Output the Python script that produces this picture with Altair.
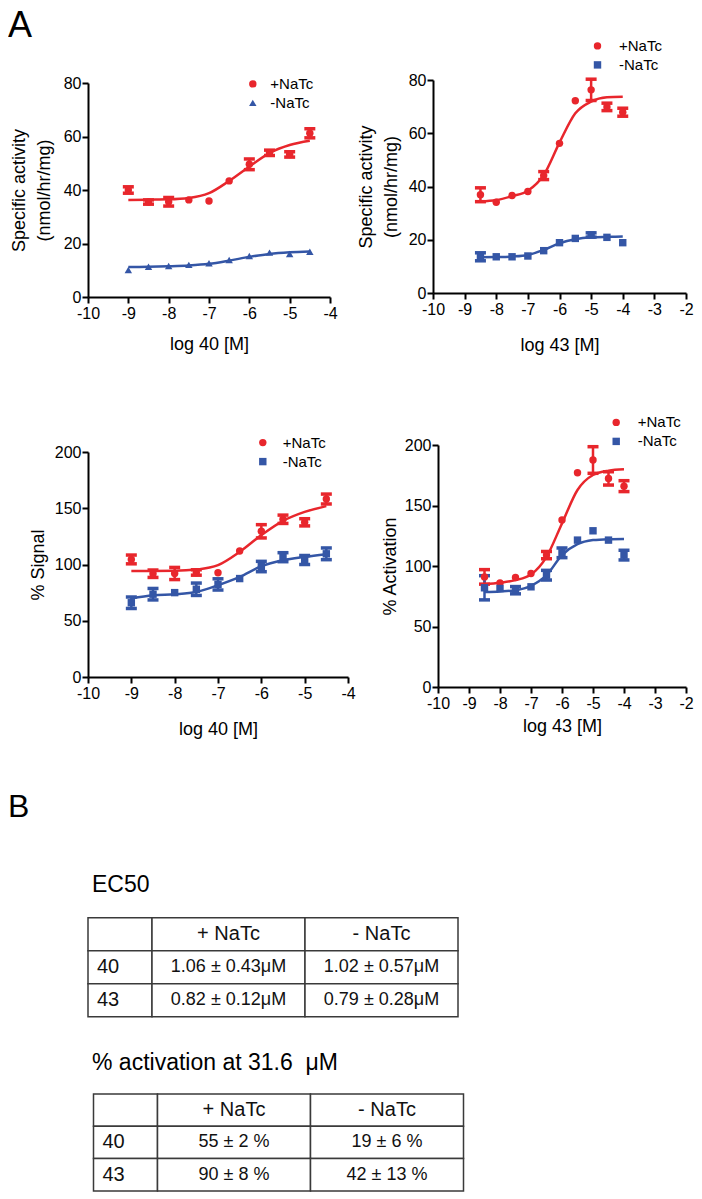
import altair as alt
import pandas as pd

# ------------------------------------------------------------------ data
PLUS, MINUS = "+NaTc", "-NaTc"

log40 = [-9, -8.5, -8, -7.5, -7, -6.5, -6, -5.5, -5, -4.5]
log43 = [-8.5, -8, -7.5, -7, -6.5, -6, -5.5, -5, -4.5, -4]

# Panel 1: specific activity vs log 40
sa40_plus = [40.0, 35.5, 35.6, 36.3, 35.9, 43.4, 49.6, 53.9, 53.3, 61.2]
sa40_plus_err = [1.2, 0.8, 1.6, 0, 0, 0, 2.0, 1.0, 1.0, 1.7]
sa40_minus = [10.1, 11.3, 11.6, 12.0, 12.6, 13.8, 15.3, 16.6, 16.1, 16.9]
sa40_minus_err = [0, 0, 0, 0, 0, 0, 0, 0, 0, 0]
sa40_plus_fit = [36.3, 36.4, 36.5, 37.0, 38.8, 43.4, 48.8, 53.8, 56.8, 58.4]
sa40_minus_fit = [11.2, 11.3, 11.5, 11.8, 12.4, 13.6, 15.0, 16.1, 16.7, 17.0]

# Panel 2: specific activity vs log 43
sa43_plus = [36.9, 34.1, 36.6, 38.1, 44.1, 56.2, 72.2, 76.3, 69.9, 67.9]
sa43_plus_err = [2.6, 0, 0, 0, 1.5, 0, 0, 4.0, 1.4, 1.5]
sa43_minus = [13.6, 13.6, 13.6, 13.9, 15.9, 18.9, 20.5, 21.8, 20.9, 18.9]
sa43_minus_err = [1.5, 0, 0, 0, 0, 0, 0, 0.8, 0, 0]
sa43_plus_fit = [34.3, 34.9, 36.4, 38.4, 44.3, 56.5, 67.5, 71.9, 73.5, 73.7]
sa43_minus_fit = [13.4, 13.5, 13.7, 14.3, 16.2, 18.7, 20.2, 20.9, 21.1, 21.2]

# Panel 3: % signal vs log 40
sig40_plus = [104.5, 91.8, 92.0, 92.9, 92.7, 112.0, 129.5, 140.2, 137.5, 158.2]
sig40_plus_err = [3.9, 3.3, 5.4, 2.4, 0, 0, 5.9, 3.7, 3.2, 4.4]
sig40_minus = [66.0, 73.6, 75.0, 78.0, 82.3, 87.5, 98.2, 106.5, 104.0, 109.5]
sig40_minus_err = [5.1, 5.1, 0, 5.5, 5.0, 0, 4.6, 4.0, 4.0, 5.2]
sig40_plus_fit = [94.3, 94.3, 94.4, 95.5, 99.4, 111.2, 126.1, 138.8, 146.8, 151.9]
sig40_minus_fit = [69.8, 72.7, 73.6, 75.6, 81.6, 89.0, 98.5, 103.8, 106.8, 109.2]

# Panel 4: % activation vs log 43
act43_plus = [91.0, 86.0, 90.5, 93.8, 109.0, 138.0, 177.0, 187.6, 172.4, 166.0]
act43_plus_err = [6.0, 0, 0, 0, 3.0, 0, 0, 11.0, 5.5, 4.5]
act43_minus = [82.0, 81.4, 80.0, 82.8, 92.4, 110.9, 121.4, 129.1, 121.4, 109.0]
act43_minus_err = [10.0, 0, 3.0, 0, 4.0, 4.0, 0, 0, 0, 4.0]
act43_plus_fit = [85.0, 86.2, 88.3, 93.0, 107.6, 135.2, 162.8, 175.2, 178.8, 179.9]
act43_minus_fit = [78.6, 79.0, 80.0, 83.6, 92.4, 109.0, 118.0, 121.4, 122.2, 122.4]

# Tables (panel B)
table_header = ["", "+ NaTc", "- NaTc"]
table_compounds = ["40", "43"]
ec50_plus = ["1.06 ± 0.43μM", "0.82 ± 0.12μM"]
ec50_minus = ["1.02 ± 0.57μM", "0.79 ± 0.28μM"]
act_plus = ["55 ± 2 %", "90 ± 8 %"]
act_minus = ["19 ± 6 %", "42 ± 13 %"]
ec50_title = "EC50"
act_title = "% activation at 31.6\u00a0\u00a0μM"
panel_a_label = "A"
panel_b_label = "B"

# ------------------------------------------------------------------ style
FONT = "Liberation Sans"
RED = "#E8262C"
BLUE = "#3456A6"
SERIES_COLORS = {PLUS: RED, MINUS: BLUE}
TEXT = "#111111"


def make_panel(xs, yp, ep, ym, em, fp, fm, minus_shape, cfg, label=None):
    n = len(xs)
    conds = [PLUS] * n + [MINUS] * n
    pts = pd.DataFrame({"x": list(xs) * 2, "y": list(yp) + list(ym),
                        "err": list(ep) + list(em), "cond": conds})
    pts["col"] = pts["cond"].map(SERIES_COLORS)
    pts["lo"] = pts["y"] - pts["err"]
    pts["hi"] = pts["y"] + pts["err"]
    bars = pts[pts["err"] > 0]
    fit = pd.DataFrame({"x": list(xs) * 2, "y": list(fp) + list(fm), "cond": conds})
    fit["col"] = fit["cond"].map(SERIES_COLORS)

    xscale = alt.Scale(domain=cfg["xdom"], range=cfg["xrange"], nice=False, zero=False)
    yscale = alt.Scale(domain=cfg["ydom"], range=cfg["yrange"], nice=False, zero=False)
    xaxis = alt.Axis(values=cfg["xticks"], title=cfg["xtitle"], titlePadding=cfg["xtp"],
                     labelExpr="datum.value + ''")
    yaxis = alt.Axis(values=cfg["yticks"], title=cfg["ytitle"], titlePadding=cfg["ytp"],
                     labelExpr="datum.value + ''", offset=cfg["yoff"])
    cscale = alt.Scale(domain=[PLUS, MINUS], range=[RED, BLUE])
    sscale = alt.Scale(domain=[PLUS, MINUS], range=["circle", minus_shape])
    lx, ly, loff = cfg["legend"]
    leg = alt.Legend(orient="none", legendX=lx, legendY=ly, title=None,
                     direction="vertical", labelOffset=loff)

    def X(f):
        return alt.X(f"{f}:Q", scale=xscale, axis=xaxis)

    def Y(f):
        return alt.Y(f"{f}:Q", scale=yscale, axis=yaxis)

    C0 = alt.Color("col:N", scale=None)

    rules = alt.Chart(bars).mark_rule(strokeWidth=2.5).encode(
        x=X("x"), y=Y("lo"), y2="hi:Q", color=C0)
    cap_lo = alt.Chart(bars).mark_tick(orient="horizontal", size=11, thickness=3.5,
                                       opacity=1).encode(x=X("x"), y=Y("lo"), color=C0)
    cap_hi = alt.Chart(bars).mark_tick(orient="horizontal", size=11, thickness=3.5,
                                       opacity=1).encode(x=X("x"), y=Y("hi"), color=C0)
    line = alt.Chart(fit).mark_line(interpolate="monotone", strokeWidth=2.5).encode(
        x=X("x"), y=Y("y"), color=C0, detail="cond:N")
    points = alt.Chart(pts).mark_point(filled=True, size=55, opacity=1, strokeWidth=0).encode(
        x=X("x"), y=Y("y"),
        color=alt.Color("cond:N", scale=cscale, legend=leg),
        shape=alt.Shape("cond:N", scale=sscale, legend=leg))
    layers = [rules, cap_lo, cap_hi, line, points]
    if label is not None:
        lbl = alt.Chart(pd.DataFrame({"t": [label]})).mark_text(
            align="left", baseline="alphabetic", font=FONT, fontSize=36, color="black"
        ).encode(x=alt.value(-80), y=alt.value(-43), text="t:N")
        layers.append(lbl)
    return alt.layer(*layers).properties(width=cfg["w"], height=cfg["h"])


cfg1 = dict(w=242, h=217, xdom=[-10, -4], xrange=[0, 242], ydom=[0, 80], yrange=[217, 3],
            xticks=[-10, -9, -8, -7, -6, -5, -4], yticks=[0, 20, 40, 60, 80],
            xtitle="log 40 [M]", ytitle=["Specific activity", "(nmol/hr/mg)"],
            xtp=14.5, ytp=10, yoff=0, legend=(157.3, -3.6, 10))
cfg2 = dict(w=253, h=213, xdom=[-10, -2], xrange=[0, 253], ydom=[0, 80], yrange=[213, 0],
            xticks=[-10, -9, -8, -7, -6, -5, -4, -3, -2], yticks=[0, 20, 40, 60, 80],
            xtitle="log 43 [M]", ytitle=["Specific activity", "(nmol/hr/mg)"],
            xtp=19, ytp=8, yoff=0, legend=(157, -41.6, 14))
cfg3 = dict(w=247, h=232, xdom=[-10, -4], xrange=[0, 260], ydom=[0, 200], yrange=[232, 7],
            xticks=[-10, -9, -8, -7, -6, -5, -4], yticks=[0, 50, 100, 150, 200],
            xtitle="log 40 [M]", ytitle="% Signal",
            xtp=19, ytp=7, yoff=0, legend=(167.3, -9.9, 12.4))
cfg4 = dict(w=253, h=242, xdom=[-10, -2], xrange=[5, 253], ydom=[0, 200], yrange=[242, 0],
            xticks=[-10, -9, -8, -7, -6, -5, -4, -3, -2], yticks=[0, 50, 100, 150, 200],
            xtitle="log 43 [M]", ytitle="% Activation",
            xtp=6, ytp=5, yoff=-5, legend=(175.7, -30.1, 14))

p1 = make_panel(log40, sa40_plus, sa40_plus_err, sa40_minus, sa40_minus_err,
                sa40_plus_fit, sa40_minus_fit, "triangle-up", cfg1, label=panel_a_label)
p2 = make_panel(log43, sa43_plus, sa43_plus_err, sa43_minus, sa43_minus_err,
                sa43_plus_fit, sa43_minus_fit, "square", cfg2)
p3 = make_panel(log40, sig40_plus, sig40_plus_err, sig40_minus, sig40_minus_err,
                sig40_plus_fit, sig40_minus_fit, "square", cfg3)
p4 = make_panel(log43, act43_plus, act43_plus_err, act43_minus, act43_minus_err,
                act43_plus_fit, act43_minus_fit, "square", cfg4)

# ------------------------------------------------------------------ tables (layout in pixels)
TBL_W, TBL_H = 380, 356
COL_W = [64, 153, 153]
T1_POS = (0, 82.7, 33.0)      # left, top, row height
T2_POS = (5.5, 259, 32.3)
LABEL_PAD = 9


def table_cells(pos, rows):
    left, top, rh = pos
    edges = [left]
    for w in COL_W:
        edges.append(edges[-1] + w)
    recs = []
    for r, row in enumerate(rows):
        for c, txt in enumerate(row):
            kind = "header" if r == 0 else ("label" if c == 0 else "value")
            recs.append(dict(x0=edges[c], x1=edges[c + 1], y0=top + r * rh,
                             y1=top + (r + 1) * rh, xc=(edges[c] + edges[c + 1]) / 2,
                             xl=edges[c] + LABEL_PAD, yc=top + (r + 0.5) * rh,
                             text=txt, kind=kind))
    return recs


rows1 = [table_header] + [[table_compounds[i], ec50_plus[i], ec50_minus[i]] for i in range(2)]
rows2 = [table_header] + [[table_compounds[i], act_plus[i], act_minus[i]] for i in range(2)]
cells = pd.DataFrame(table_cells(T1_POS, rows1) + table_cells(T2_POS, rows2))

headings = pd.DataFrame({
    "text": [panel_b_label, ec50_title, act_title],
    "x": [-80, 4, 4],
    "y": [-18, 56.7, 235],
    "fs": [32, 23, 23],
})

tx = alt.Scale(domain=[0, TBL_W], range=[0, TBL_W], nice=False, zero=False)
ty = alt.Scale(domain=[0, TBL_H], range=[0, TBL_H], nice=False, zero=False)

rects = alt.Chart(cells).mark_rect(fill="white", stroke="#3a3a3a", strokeWidth=1.5).encode(
    x=alt.X("x0:Q", scale=tx, axis=None), x2="x1:Q",
    y=alt.Y("y0:Q", scale=ty, axis=None), y2="y1:Q")
hdr = alt.Chart(cells).transform_filter("datum.kind == 'header'").mark_text(
    align="center", baseline="middle", font=FONT, fontSize=20, color=TEXT).encode(
    x=alt.X("xc:Q", scale=tx, axis=None), y=alt.Y("yc:Q", scale=ty, axis=None), text="text:N")
lab = alt.Chart(cells).transform_filter("datum.kind == 'label'").mark_text(
    align="left", baseline="middle", font=FONT, fontSize=20, color=TEXT).encode(
    x=alt.X("xl:Q", scale=tx, axis=None), y=alt.Y("yc:Q", scale=ty, axis=None), text="text:N")
val = alt.Chart(cells).transform_filter("datum.kind == 'value'").mark_text(
    align="center", baseline="middle", font=FONT, fontSize=18, color=TEXT).encode(
    x=alt.X("xc:Q", scale=tx, axis=None), y=alt.Y("yc:Q", scale=ty, axis=None), text="text:N")
heads = alt.Chart(headings).mark_text(
    align="left", baseline="alphabetic", font=FONT, color="black").encode(
    x=alt.X("x:Q", scale=tx, axis=None), y=alt.Y("y:Q", scale=ty, axis=None),
    text="text:N", size=alt.Size("fs:Q", scale=None, legend=None))

tables = alt.layer(rects, hdr, lab, val, heads).properties(width=200, height=TBL_H)

# ------------------------------------------------------------------ assemble
chart = alt.concat(
    p1, p2, p3, p4, tables,
    columns=2, align="none", bounds="flush",
    spacing={"row": 148, "column": 98},
).resolve_scale(
    x="independent", y="independent", color="independent", shape="independent", size="independent"
).resolve_legend(
    color="independent", shape="independent"
).properties(
    padding=0, background="white"
).configure_view(
    stroke=None
).configure_axis(
    domainColor="black", domainWidth=2, tickColor="black", tickWidth=2, tickSize=6,
    labelFont=FONT, labelFontSize=16, labelColor="black", titleFont=FONT, titleFontSize=18,
    titleFontWeight="normal", titleColor="black", grid=False, labelFlush=False,
    labelOverlap=False,
).configure_axisX(
    labelPadding=2
).configure_axisY(
    labelPadding=1, titleLineHeight=25
).configure_legend(
    labelFont=FONT, labelFontSize=15, labelColor="black", padding=0, rowPadding=3,
    symbolSize=55, symbolStrokeWidth=0
)

chart.save("out.html", embed_options={"renderer": "svg", "actions": False})
